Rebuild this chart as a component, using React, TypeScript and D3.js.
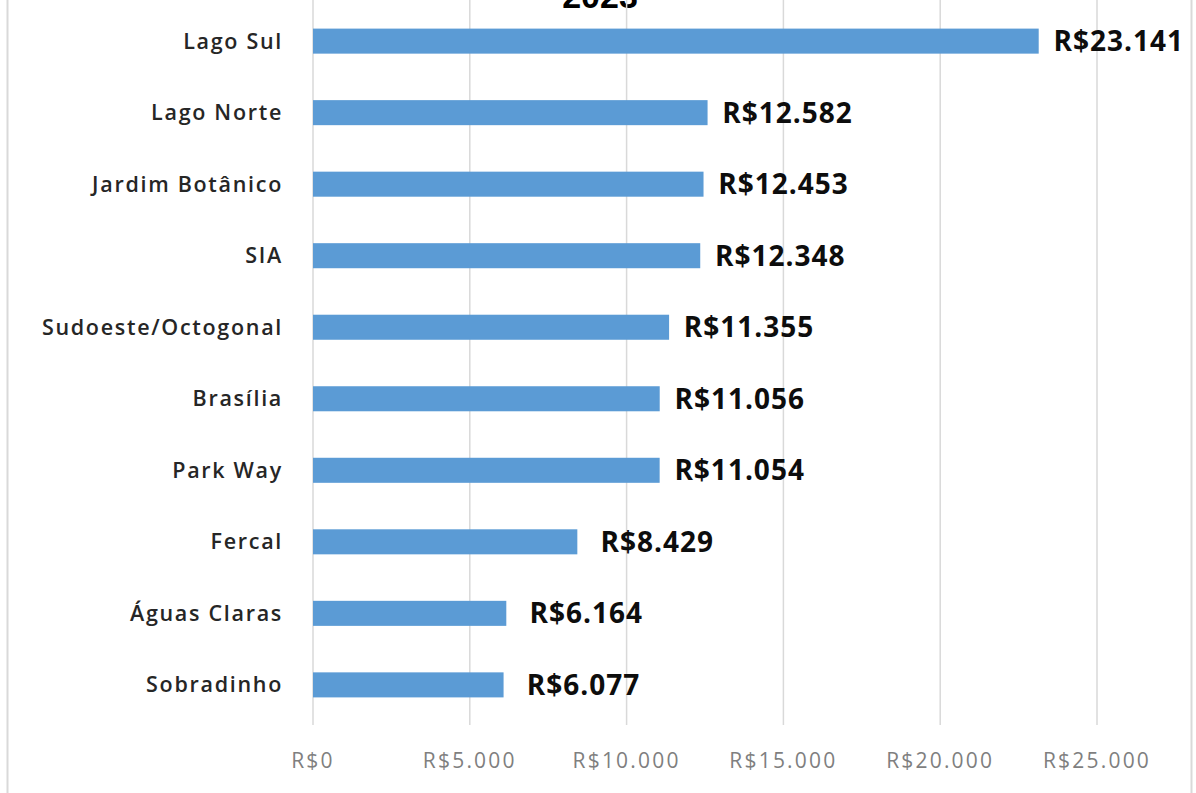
import React from 'react';
import * as d3 from 'd3';

const categories = [
  'Lago Sul',
  'Lago Norte',
  'Jardim Botânico',
  'SIA',
  'Sudoeste/Octogonal',
  'Brasília',
  'Park Way',
  'Fercal',
  'Águas Claras',
  'Sobradinho',
];
const values = [23141, 12582, 12453, 12348, 11355, 11056, 11054, 8429, 6164, 6077];
const ticks = [0, 5000, 10000, 15000, 20000, 25000];
const title = '2023';

const W = 1196;
const H = 793;

const fmt = (v: number) => 'R$' + d3.format(',')(v).replace(/,/g, '.');

export default function App() {
  const x = d3.scaleLinear().domain([0, 25000]).range([313, 1097]);
  const y = d3
    .scaleBand<string>()
    .domain(categories)
    .range([5, 721])
    .paddingInner(0.65)
    .paddingOuter(0.33);

  return (
    <svg width={W} height={H} style={{ position: 'absolute', left: 0, top: 0 }}>
      <rect x={0} y={0} width={W} height={H} fill="#fff" />
      {/* chart border */}
      <line x1={7.5} x2={7.5} y1={0} y2={H} stroke="#d9d9d9" strokeWidth={2} />
      <line x1={1191.5} x2={1191.5} y1={0} y2={H} stroke="#d9d9d9" strokeWidth={2} />

      <text
        x={600}
        y={8}
        textAnchor="middle"
        fontFamily="Liberation Sans, Arial, sans-serif"
        fontWeight="bold"
        fontSize={34}
        fill="#000"
      >
        {title}
      </text>

      {/* gridlines */}
      {ticks.map((t) => (
        <line key={t} x1={x(t)} x2={x(t)} y1={0} y2={725} stroke="#d9d9d9" strokeWidth={1.5} />
      ))}

      {/* bars */}
      {categories.map((c, i) => (
        <rect
          key={c}
          x={x(0)}
          y={y(c)}
          width={x(values[i]) - x(0)}
          height={y.bandwidth()}
          fill="#5b9bd5"
        />
      ))}

      {/* category labels */}
      {categories.map((c) => (
        <text
          key={c}
          x={283}
          y={(y(c) || 0) + y.bandwidth() / 2}
          dy="0.35em"
          textAnchor="end"
          fontFamily="Open Sans, sans-serif"
          fontWeight="600"
          fontSize={21.5}
          letterSpacing={1.7}
          fill="#262626"
        >
          {c}
        </text>
      ))}

      {/* value labels */}
      {categories.map((c, i) => (
        <text
          key={c}
          x={x(values[i]) + 80}
          y={(y(c) || 0) + y.bandwidth() / 2}
          dy="0.36em"
          textAnchor="middle"
          fontFamily="Open Sans, sans-serif"
          fontWeight="bold"
          fontSize={28}
          letterSpacing={1}
          fill="#0d0d0d"
        >
          {fmt(values[i])}
        </text>
      ))}

      {/* x tick labels */}
      {ticks.map((t) => (
        <text
          key={t}
          x={x(t)}
          y={761}
          dy="0.35em"
          textAnchor="middle"
          fontFamily="Open Sans, sans-serif"
          fontSize={21}
          letterSpacing={2.2}
          fill="#7f7f7f"
        >
          {fmt(t)}
        </text>
      ))}
    </svg>
  );
}
